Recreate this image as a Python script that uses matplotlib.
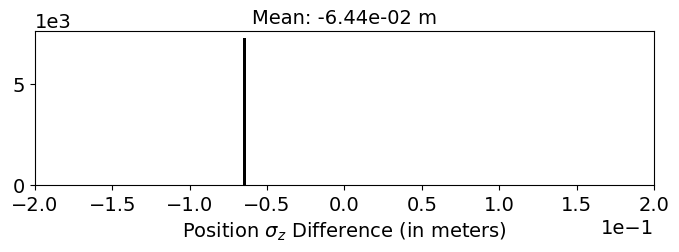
import numpy as np
import matplotlib
matplotlib.use('Agg')
import matplotlib.pyplot as plt

# ヒストグラムのデータ (ビン中心とカウント)
bin_centers = [-0.0644]
bin_counts = [7250]
bin_width = 0.0022
mean_value = -6.44e-02

plt.rcParams['font.size'] = 14

fig = plt.figure(figsize=(6.79, 2.53), dpi=100)
ax = fig.add_axes([0.0515, 0.265, 0.9115, 0.608])
ax.bar(bin_centers, bin_counts, width=bin_width, color='black')
ax.set_xlim(-0.2, 0.2)
ax.ticklabel_format(style='sci', axis='both', scilimits=(0, 0))
ax.set_xlabel(r'Position $\sigma_z$ Difference (in meters)')
ax.set_title(f'Mean: {mean_value:.2e} m', fontsize=14)
fig.savefig('out.png', dpi=100)
